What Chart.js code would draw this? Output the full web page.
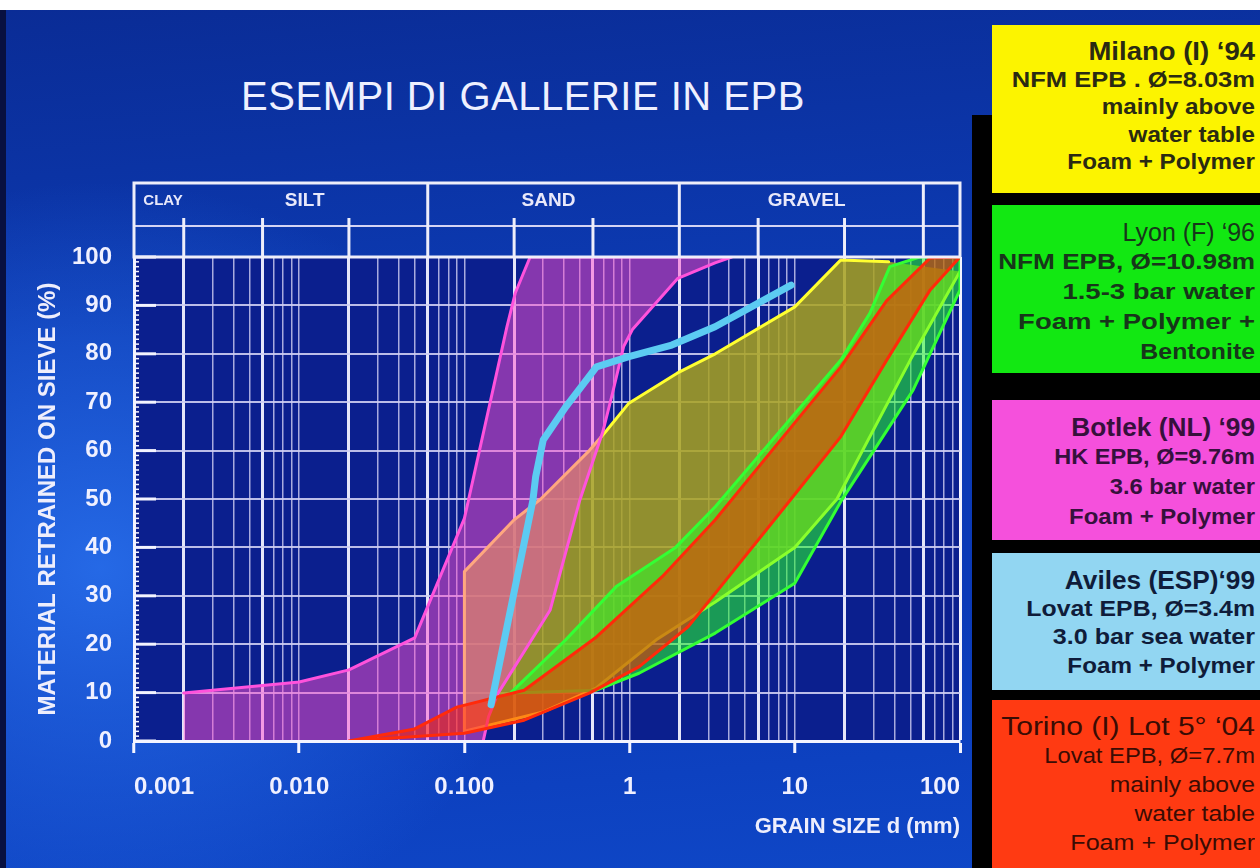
<!DOCTYPE html>
<html>
<head>
<meta charset="utf-8">
<title>Esempi di gallerie in EPB</title>
<script src="https://cdn.jsdelivr.net/npm/chart.js@4.4.1/dist/chart.umd.min.js"></script>
<style>
  body { margin: 0; width: 1260px; height: 868px; overflow: hidden; background: #fff;
         font-family: 'Liberation Sans', Arial, sans-serif; }
  #slide { position: absolute; left: 0; top: 10px; width: 1260px; height: 858px;
    background:
      radial-gradient(ellipse 35% 45% at 8% 65%, rgba(40,110,235,0.9) 0%, rgba(40,110,235,0) 100%),
      linear-gradient(175deg, #0a2c96 0%, #0c3ab2 35%, #0b3ab8 70%, #0f48c8 100%); }
  #edge { position: absolute; left: 0; top: 10px; width: 6px; height: 858px; background: #081040; }
  #title { position: absolute; left: 0; top: 74px; width: 1046px; text-align: center;
           color: #eef0ff; font-size: 40px; letter-spacing: 0.5px; }
  #wrap { position: absolute; left: 0; top: 0; width: 980px; height: 868px; }
  #panel { position: absolute; left: 972px; top: 115px; width: 288px; height: 753px; background: #000; }
  .box { position: absolute; left: 992px; width: 263px; padding-right: 5px; text-align: right;
         font-weight: bold; font-size: 22px; white-space: nowrap; box-sizing: border-box; overflow: hidden; }
  .box div { transform-origin: right center; }
  .box .h { font-size: 25px; }
</style>
</head>
<body>
<div id="slide"></div>
<div id="edge"></div>
<div id="title">ESEMPI DI GALLERIE IN EPB</div>
<div id="panel"></div>

<div class="box" style="top:25px;height:168px;width:268px;background:#fcf400;color:#2a2a12;line-height:27.5px;padding-top:13px">
  <div class="h" style="transform:scaleX(1.1)">Milano (I) ‘94</div>
  <div style="transform:scaleX(1.16)">NFM EPB . Ø=8.03m</div>
  <div style="transform:scaleX(1.1)">mainly above</div>
  <div style="transform:scaleX(1.1)">water table</div>
  <div style="transform:scaleX(1.1)">Foam + Polymer</div>
</div>
<div class="box" style="top:205px;height:168px;width:268px;background:#12e812;color:#17361a;line-height:30px;padding-top:12px">
  <div class="h" style="font-weight:normal">Lyon (F) ‘96</div>
  <div style="transform:scaleX(1.19)">NFM EPB, Ø=10.98m</div>
  <div style="transform:scaleX(1.25)">1.5-3 bar water</div>
  <div style="transform:scaleX(1.25)">Foam + Polymer +</div>
  <div style="transform:scaleX(1.13)">Bentonite</div>
</div>
<div class="box" style="top:400px;height:140px;width:268px;background:#f550dc;color:#36103c;line-height:30px;padding-top:12px">
  <div class="h" style="transform:scaleX(1.05)">Botlek (NL) ‘99</div>
  <div style="transform:scaleX(1.07)">HK EPB, Ø=9.76m</div>
  <div style="transform:scaleX(1.08)">3.6 bar water</div>
  <div style="transform:scaleX(1.09)">Foam + Polymer</div>
</div>
<div class="box" style="top:553px;height:137px;width:268px;background:#92d6f2;color:#0f1c3a;line-height:28.5px;padding-top:13px">
  <div class="h" style="transform:scaleX(1.05)">Aviles (ESP)‘99</div>
  <div style="transform:scaleX(1.13)">Lovat EPB, Ø=3.4m</div>
  <div style="transform:scaleX(1.14)">3.0 bar sea water</div>
  <div style="transform:scaleX(1.1)">Foam + Polymer</div>
</div>
<div class="box" style="top:700px;height:168px;width:268px;background:#ff3a12;color:#3a0c04;line-height:29px;padding-top:12px;font-weight:normal">
  <div class="h" style="transform:scaleX(1.2)">Torino (I) Lot 5° ‘04</div>
  <div style="transform:scaleX(1.08)">Lovat EPB, Ø=7.7m</div>
  <div style="transform:scaleX(1.12)">mainly above</div>
  <div style="transform:scaleX(1.12)">water table</div>
  <div style="transform:scaleX(1.14)">Foam + Polymer</div>
</div>

<div id="wrap"><canvas id="myChart"></canvas></div>

<script>
'use strict';

// axis ticks
const xLabelVals = [0.001, 0.01, 0.1, 1, 10, 100];
const xLabelText = ['0.001', '0.010', '0.100', '1', '10', '100'];
const yTickVals = [0, 10, 20, 30, 40, 50, 60, 70, 80, 90, 100];

// soil classes (header band)
const classBounds = [0.002, 0.006, 0.02, 0.06, 0.2, 0.6, 2, 6, 20, 60];
const classMain = [0.06, 2, 60];
const classNames = ['CLAY', 'SILT', 'SAND', 'GRAVEL'];
const classLabelAt = [0.0015, 0.0108, 0.323, 11.8];

// Milano (I) '94 - yellow band
const milanoUpperX = [0.1, 0.1, 0.2, 0.29, 0.57, 0.72, 0.99, 1.94, 3.3, 10, 19, 37];
const milanoUpperY = [2, 35, 45.7, 50, 60, 64, 69.8, 76, 80, 89.7, 99.4, 99];
const milanoLowerX = [100, 50, 18, 10, 3.3, 1.45, 0.63, 0.3, 0.1];
const milanoLowerY = [97, 78.7, 50, 40, 28.7, 20.9, 11, 6, 2];

// Lyon (F) '96 - green band
const lyonUpperX = [0.19, 0.41, 0.83, 1.9, 3.3, 19, 28.5, 37.6, 57, 100];
const lyonUpperY = [9.9, 20.9, 31.9, 40, 48.4, 78.7, 88.4, 98, 100, 100];
const lyonLowerX = [100, 52, 19, 10, 3.3, 1.14, 0.63, 0.19];
const lyonLowerY = [93.2, 72.5, 49.5, 32.6, 22.3, 14, 10.5, 9.9];

// Botlek (NL) '99 - magenta band
const botlekUpperX = [0.002, 0.002, 0.01, 0.02, 0.05, 0.1, 0.181, 0.203, 0.25, 4.15];
const botlekUpperY = [0, 9.9, 12.2, 14.7, 21.3, 46, 85.6, 92.5, 100, 100];
const botlekLowerX = [3.29, 1.96, 1.04, 0.92, 0.79, 0.69, 0.5, 0.33, 0.16, 0.14, 0.13];
const botlekLowerY = [98.8, 95.6, 85, 81.5, 72, 64, 49.8, 27, 9.9, 5, 0];

// Aviles (ESP) '99 - cyan curve
const avilesX = [0.145, 0.26, 0.27, 0.3, 0.41, 0.63, 0.99, 1.8, 3.29, 9.5];
const avilesY = [7.5, 49.8, 54.6, 62.2, 69, 77.3, 79.4, 81.8, 85.6, 94.2];

// Torino (I) Lot 5 '04 - red band
const torinoUpperX = [0.02, 0.05, 0.09, 0.23, 0.63, 1.58, 3.3, 10.3, 19, 36, 66, 100];
const torinoUpperY = [0, 2.5, 7, 10.5, 21.5, 34, 45.7, 66.3, 77.3, 91, 99.8, 100];
const torinoLowerX = [66, 36, 19, 9.5, 3.3, 2.26, 1.14, 0.57, 0.23, 0.1, 0.02];
const torinoLowerY = [93.2, 78.7, 62.9, 50, 30.5, 23.6, 15.3, 9.9, 4.3, 1.6, 0];

// log grid: 1..9 per decade
let xGridVals = [];
for (let e = -3; e < 2; e++) {
  for (let m = 1; m < 10; m++) {
    xGridVals.push(Number((m * Math.pow(10, e)).toPrecision(6)));
  }
}
xGridVals.push(100);

function same(a, b) {
  return Math.abs(a - b) / b < 1e-6;
}

function pts(xs, ys) {
  let out = [];
  for (let i = 0; i < xs.length; i++) out.push({x: xs[i], y: ys[i]});
  return out;
}

// a closed band: fill only, no outline
function bandFill(label, data, color, order) {
  return { label: label, data: data, order: order, fill: 'shape',
           backgroundColor: color, borderWidth: 0, borderColor: 'rgba(0,0,0,0)' };
}

// an outline drawn over its band
function outline(label, data, color, width, order) {
  return { label: label, data: data, order: order, fill: false,
           borderColor: color, borderWidth: width, borderJoinStyle: 'round', borderCapStyle: 'round' };
}

const slidePlugin = {
  id: 'slide',
  beforeDraw(chart) {
    const {ctx, chartArea: ca} = chart;
    ctx.save();
    ctx.fillStyle = '#0b1f8e';
    ctx.fillRect(ca.left, ca.top, ca.right - ca.left, ca.bottom - ca.top);
    ctx.restore();
  },
  afterDatasetsDraw(chart) {
    // little ticks inside the left axis
    const {ctx, chartArea: ca, scales} = chart;
    ctx.save();
    ctx.strokeStyle = '#f4f4ff';
    for (let v = 0; v <= 100; v++) {
      const py = scales.y.getPixelForValue(v);
      const major = v % 10 === 0;
      ctx.lineWidth = major ? 3 : 1.5;
      ctx.beginPath();
      ctx.moveTo(ca.left, py);
      ctx.lineTo(ca.left + (major ? 22 : 5), py);
      ctx.stroke();
    }
    ctx.restore();
  },
  afterDraw(chart) {
    const {ctx, chartArea: ca, scales} = chart;
    const top = ca.top - 74;
    const mid = ca.top - 31;
    const shortTop = ca.top - 39;
    ctx.save();
    ctx.strokeStyle = '#d4d4f4';
    ctx.lineWidth = 2;
    ctx.beginPath();
    ctx.moveTo(ca.left, mid);
    ctx.lineTo(ca.right, mid);
    ctx.stroke();

    ctx.strokeStyle = '#eeeefa';
    ctx.lineWidth = 3;
    ctx.strokeRect(ca.left, top, ca.right - ca.left, ca.top - top);
    classBounds.forEach(function (b) {
      const px = scales.x.getPixelForValue(b);
      const full = classMain.some(m => same(m, b));
      ctx.beginPath();
      ctx.moveTo(px, full ? top : shortTop);
      ctx.lineTo(px, ca.top);
      ctx.stroke();
    });

    ctx.fillStyle = '#e8e8fa';
    ctx.textAlign = 'center';
    ctx.textBaseline = 'middle';
    classNames.forEach(function (name, i) {
      ctx.font = (i === 0 ? 'bold 15px' : 'bold 19px') + " 'Liberation Sans', Arial, sans-serif";
      ctx.fillText(name, scales.x.getPixelForValue(classLabelAt[i]), top + 18);
    });
    ctx.restore();
  }
};

const milanoPoly = pts(milanoUpperX, milanoUpperY).concat(pts(milanoLowerX, milanoLowerY));
const botlekPoly = pts(botlekUpperX, botlekUpperY).concat(pts(botlekLowerX, botlekLowerY));
const lyonPoly = pts(lyonUpperX, lyonUpperY).concat(pts(lyonLowerX, lyonLowerY));
const torinoPoly = pts(torinoUpperX, torinoUpperY).concat(pts(torinoLowerX, torinoLowerY));

const ctx = document.getElementById('myChart').getContext('2d');
const myChart = new Chart(ctx, {
  type: 'line',
  data: {
    datasets: [
      bandFill('Milano (I) 94', milanoPoly, 'rgba(168, 162, 32, 0.86)', 9),
      outline('Milano upper', pts(milanoUpperX, milanoUpperY), '#ffff30', 3, 8),
      outline('Milano lower', pts(milanoLowerX, milanoLowerY), '#ffff30', 3, 8),
      bandFill('Botlek (NL) 99', botlekPoly, 'rgba(255, 80, 205, 0.5)', 7),
      outline('Botlek line', botlekPoly.slice(1), '#ff52dc', 3, 6),
      bandFill('Lyon (F) 96', lyonPoly, 'rgba(40, 255, 40, 0.55)', 5),
      outline('Lyon line', lyonPoly, '#33ff33', 3, 4),
      bandFill('Torino (I) 04', torinoPoly, 'rgba(255, 40, 0, 0.55)', 3),
      outline('Torino line', torinoPoly, '#ff2a0a', 3, 2),
      outline('Aviles (ESP) 99', pts(avilesX, avilesY), '#5ccbf2', 7, 0)
    ]
  },
  options: {
    responsive: true,
    maintainAspectRatio: false,
    animation: false,
    devicePixelRatio: 1,
    elements: {
      point: { radius: 0, hoverRadius: 0 },
      line: { tension: 0 }
    },
    layout: { padding: { left: 0, right: 14, top: 257, bottom: 27 } },
    plugins: {
      legend: { display: false },
      tooltip: { enabled: false }
    },
    scales: {
      x: {
        type: 'logarithmic',
        min: 0.001,
        max: 100,
        afterBuildTicks: s => { s.ticks = xGridVals.map(v => ({value: v})); },
        afterFit: s => { s.height = 100; },
        ticks: {
          autoSkip: false,
          maxRotation: 0,
          align: 'inner',
          padding: 20,
          color: '#f0f0ff',
          font: { size: 24, weight: 'bold' },
          callback: function (v) {
            const i = xLabelVals.findIndex(t => same(t, v));
            return i >= 0 ? xLabelText[i] : '';
          }
        },
        grid: {
          color: c => {
            const v = c.tick.value;
            if (same(v, 100)) return '#f4f4ff';
            return classBounds.some(b => same(b, v)) ? '#e6e6f8' : 'rgba(196, 196, 236, 0.85)';
          },
          lineWidth: c => {
            const v = c.tick.value;
            if (same(v, 100)) return 3;
            return classBounds.some(b => same(b, v)) ? 3 : 1.5;
          },
          tickColor: c => (xLabelVals.some(t => same(t, c.tick.value)) ? '#f4f4ff' : 'rgba(0,0,0,0)'),
          tickLength: 12,
          tickWidth: 3
        },
        border: { color: '#f4f4ff', width: 3, z: 1 },
        title: {
          display: true,
          text: 'GRAIN SIZE d (mm)',
          align: 'end',
          color: '#eeeefc',
          font: { size: 22, weight: 'bold' },
          padding: { top: 0, bottom: 1 }
        }
      },
      y: {
        min: 0,
        max: 100,
        afterBuildTicks: s => { s.ticks = yTickVals.map(v => ({value: v})); },
        afterFit: s => { s.width = 134; },
        ticks: {
          padding: 22,
          color: '#f0f0ff',
          font: { size: 24, weight: 'bold' }
        },
        grid: {
          color: 'rgba(206, 206, 242, 0.9)',
          lineWidth: 2,
          drawTicks: false
        },
        border: { color: '#f4f4ff', width: 3, z: 1 },
        title: {
          display: true,
          text: 'MATERIAL RETRAINED ON SIEVE (%)',
          color: '#eeeefc',
          font: { size: 24, weight: 'bold' },
          padding: { top: 34, bottom: 0 }
        }
      }
    }
  },
  plugins: [slidePlugin]
});
</script>
</body>
</html>
